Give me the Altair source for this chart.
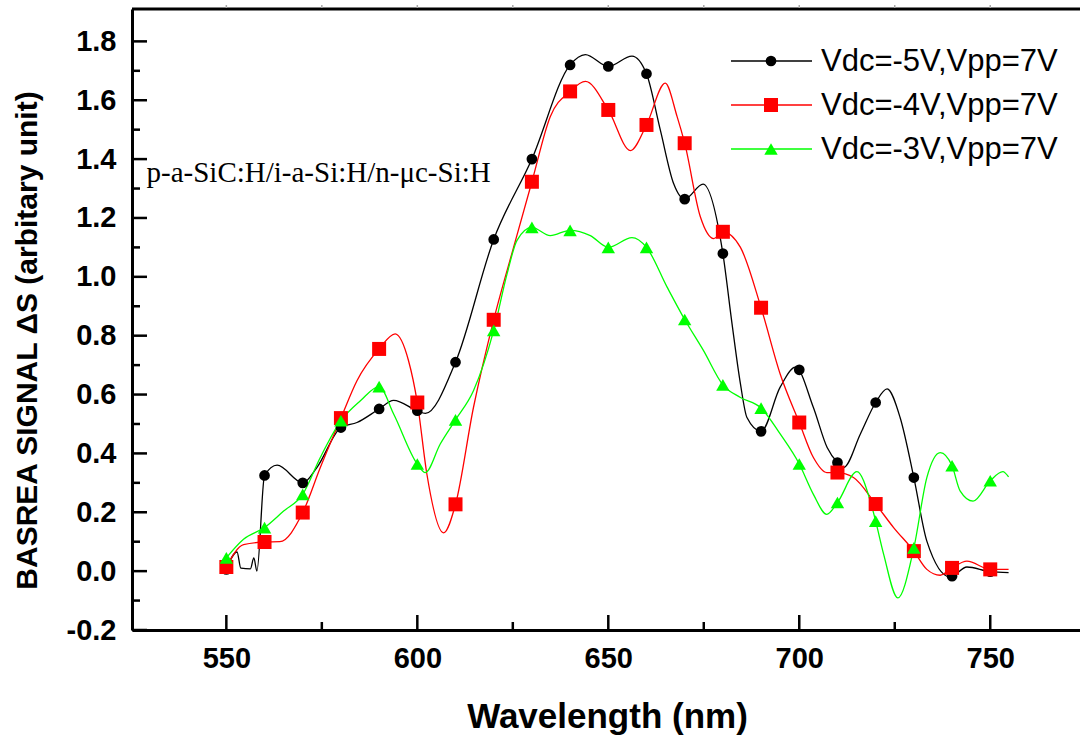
import altair as alt
import pandas as pd

# ---------------- data ----------------
SERIES = ["Vdc=-5V,Vpp=7V", "Vdc=-4V,Vpp=7V", "Vdc=-3V,Vpp=7V"]
COLORS = ["#000000", "#ff0000", "#00ff00"]
SHAPES = ["circle", "square", "triangle-up"]
SIZES = [115, 196, 180]

marker_wl = [550, 560, 570, 580, 590, 600, 610, 620, 630, 640, 650,
             660, 670, 680, 690, 700, 710, 720, 730, 740, 750]
black_marker_sig = [0.006, 0.325, 0.30, 0.488, 0.551, 0.545, 0.71, 1.127, 1.40, 1.72, 1.715,
                    1.69, 1.264, 1.079, 0.475, 0.684, 0.369, 0.573, 0.318, -0.017, -0.002]
red_marker_sig = [0.014, 0.099, 0.199, 0.52, 0.755, 0.573, 0.227, 0.854, 1.323, 1.63, 1.567,
                  1.516, 1.454, 1.153, 0.895, 0.505, 0.335, 0.228, 0.068, 0.011, 0.006]
green_marker_sig = [0.045, 0.148, 0.261, 0.511, 0.627, 0.364, 0.514, 0.818, 1.168, 1.158, 1.10,
                    1.10, 0.855, 0.633, 0.554, 0.364, 0.233, 0.17, 0.079, 0.358, 0.307]

black_line_wl = [550, 552.8, 553.8, 556.3, 557.2, 558.0, 560, 563.3, 570, 573.7, 580, 584.2,
                 590, 593.8, 600, 602.1, 610, 620, 630, 640, 644, 650, 656.2, 660, 663.6,
                 667.1, 670, 674.8, 680, 682.4, 684.6, 686.3, 690, 695, 699, 703.7, 707.3,
                 710, 711.6, 716, 720, 723, 726.4, 730, 733.4, 739.5, 743.9, 750, 754.8]
black_line_sig = [0.006, 0.065, 0.01, 0.008, 0.045, 0.0, 0.325, 0.36, 0.30, 0.352, 0.488, 0.505,
                  0.551, 0.58, 0.545, 0.536, 0.71, 1.127, 1.40, 1.72, 1.755, 1.715, 1.75, 1.69, 1.5,
                  1.317, 1.264, 1.315, 1.079, 0.84, 0.636, 0.522, 0.475, 0.625, 0.693, 0.556, 0.42,
                  0.369, 0.352, 0.466, 0.573, 0.619, 0.522, 0.318, 0.102, -0.02, 0.014, -0.002, -0.005]

red_line_wl = [550, 554.5, 560, 564, 570, 574.6, 580, 584.2, 590, 594.2, 597.7, 600, 602.5,
               606.9, 610, 614.7, 620, 625.2, 630, 634.8, 640, 644, 650, 655.8, 660, 664.9,
               668, 670, 674.1, 677.6, 680, 684.6, 690, 695, 700, 703.7, 707.2, 710, 714.2,
               720, 724.7, 730, 733.4, 736.9, 740, 743.9, 750, 754.8]
red_line_sig = [0.014, 0.09, 0.099, 0.10, 0.199, 0.352, 0.52, 0.647, 0.755, 0.806, 0.715, 0.573,
                0.33, 0.13, 0.227, 0.556, 0.854, 1.10, 1.323, 1.544, 1.63, 1.664, 1.567, 1.429,
                1.516, 1.658, 1.545, 1.454, 1.204, 1.13, 1.153, 1.10, 0.895, 0.67, 0.505, 0.386,
                0.335, 0.335, 0.318, 0.228, 0.148, 0.068, 0.006, -0.014, 0.011, 0.034, 0.006, 0.006]

green_line_wl = [550, 554.5, 560, 565, 570, 574.6, 580, 585.1, 590, 593.8, 600, 602.1, 606,
                 610, 614.7, 620, 623.5, 626.1, 630, 634.8, 640, 645.3, 650, 656.2, 660, 665.4,
                 670, 674.9, 680, 684.6, 690, 695, 700, 703.7, 707.2, 710, 715.1, 718.6, 720,
                 722.1, 725.8, 730, 733.4, 736.9, 740, 742.1, 745.5, 750, 753.3, 754.8]
green_line_sig = [0.045, 0.108, 0.148, 0.204, 0.261, 0.386, 0.511, 0.579, 0.627, 0.534, 0.364,
                  0.335, 0.432, 0.514, 0.613, 0.818, 1.01, 1.124, 1.168, 1.14, 1.158, 1.14, 1.10,
                  1.133, 1.10, 0.965, 0.855, 0.75, 0.633, 0.59, 0.554, 0.466, 0.364, 0.261, 0.193,
                  0.233, 0.338, 0.238, 0.17, 0.057, -0.091, 0.079, 0.318, 0.403, 0.358, 0.273,
                  0.238, 0.307, 0.338, 0.32]

x_major_ticks = [550, 600, 650, 700, 750]
x_minor_ticks = [575, 625, 675, 725]
y_major_ticks = [-0.2, 0.0, 0.2, 0.4, 0.6, 0.8, 1.0, 1.2, 1.4, 1.6, 1.8]
y_minor_ticks = [-0.1, 0.1, 0.3, 0.5, 0.7, 0.9, 1.1, 1.3, 1.5, 1.7]

ANNOTATION = "p-a-SiC:H/i-a-Si:H/n-\u03bcc-Si:H"
ANN_WL, ANN_SIG = 529.1, 1.323

X_TITLE = "Wavelength (nm)"
Y_TITLE = "BASREA SIGNAL \u0394S (arbitary unit)"

# ---------------- layout ----------------
W, H = 948, 621
LEFT, TOP = 132, 9
FONT = "Liberation Sans"

xscale = alt.Scale(domain=[525.3, 773.5], nice=False, zero=False)
yscale = alt.Scale(domain=[-0.2, 1.91], nice=False, zero=False)

x_axis = alt.Axis(values=x_major_ticks, format="d", ticks=False, tickSize=0, grid=False,
                  domainColor="black", domainWidth=3, labelFont=FONT, labelFontSize=29,
                  labelFontWeight="bold", labelColor="black", labelPadding=14,
                  title=X_TITLE, titleFont=FONT, titleFontSize=35, titleFontWeight="bold",
                  titleColor="black", titleX=475, titleY=97, titleAlign="center",
                  titleBaseline="alphabetic", titleAnchor="middle")
y_axis = alt.Axis(values=y_major_ticks, ticks=False, tickSize=0, grid=False,
                  labelExpr="replace(format(datum.value, '.1f'), '\u2212', '-')",
                  domainColor="black", domainWidth=3, labelFont=FONT, labelFontSize=29,
                  labelFontWeight="bold", labelColor="black", labelPadding=16,
                  title=Y_TITLE, titleFont=FONT, titleFontSize=30, titleFontWeight="bold",
                  titleColor="black", titleAngle=270, titleX=-96, titleY=331,
                  titleAlign="center", titleBaseline="alphabetic")

lines_wl = [black_line_wl, red_line_wl, green_line_wl]
lines_sig = [black_line_sig, red_line_sig, green_line_sig]
markers_sig = [black_marker_sig, red_marker_sig, green_marker_sig]

layers = []
for i, name in enumerate(SERIES):
    ldf = pd.DataFrame({"wl": lines_wl[i], "sig": lines_sig[i]})
    enc_x = alt.X("wl:Q", scale=xscale, axis=x_axis) if i == 0 else alt.X("wl:Q", scale=xscale)
    enc_y = alt.Y("sig:Q", scale=yscale, axis=y_axis) if i == 0 else alt.Y("sig:Q", scale=yscale)
    layers.append(
        alt.Chart(ldf).mark_line(color=COLORS[i], strokeWidth=1.3, interpolate="monotone", clip=True)
        .encode(x=enc_x, y=enc_y, order="wl:Q")
    )
for i, name in enumerate(SERIES):
    mdf = pd.DataFrame({"wl": marker_wl, "sig": markers_sig[i]})
    layers.append(
        alt.Chart(mdf).mark_point(shape=SHAPES[i], filled=True, size=SIZES[i], color=COLORS[i],
                                  opacity=1, strokeWidth=0)
        .encode(x=alt.X("wl:Q", scale=xscale), y=alt.Y("sig:Q", scale=yscale))
    )

# inward ticks
layers.append(alt.Chart(pd.DataFrame({"sig": y_major_ticks})).mark_rule(color="black", strokeWidth=2.5)
              .encode(y=alt.Y("sig:Q", scale=yscale), x=alt.value(0), x2=alt.value(15)))
layers.append(alt.Chart(pd.DataFrame({"sig": y_minor_ticks})).mark_rule(color="black", strokeWidth=2.5)
              .encode(y=alt.Y("sig:Q", scale=yscale), x=alt.value(0), x2=alt.value(8)))
layers.append(alt.Chart(pd.DataFrame({"wl": x_major_ticks})).mark_rule(color="black", strokeWidth=2.5)
              .encode(x=alt.X("wl:Q", scale=xscale), y=alt.value(H), y2=alt.value(H - 15)))
layers.append(alt.Chart(pd.DataFrame({"wl": x_minor_ticks})).mark_rule(color="black", strokeWidth=2.5)
              .encode(x=alt.X("wl:Q", scale=xscale), y=alt.value(H), y2=alt.value(H - 8)))
# top border with faint outer ticks
layers.append(alt.Chart(pd.DataFrame({"a": [0]})).mark_rule(color="black", strokeWidth=3)
              .encode(x=alt.value(0), x2=alt.value(W), y=alt.value(0)))
layers.append(alt.Chart(pd.DataFrame({"wl": x_major_ticks + x_minor_ticks})).mark_rule(color="#aaaaaa", strokeWidth=1.5)
              .encode(x=alt.X("wl:Q", scale=xscale), y=alt.value(-4), y2=alt.value(-1)))

# annotation
layers.append(alt.Chart(pd.DataFrame({"wl": [ANN_WL], "sig": [ANN_SIG], "t": [ANNOTATION]}))
              .mark_text(align="left", baseline="alphabetic", font="Liberation Serif", fontSize=29,
                         color="black")
              .encode(x=alt.X("wl:Q", scale=xscale), y=alt.Y("sig:Q", scale=yscale), text="t:N"))

# legend (drawn manually: line + marker + label)
LEG_ROWS = [61, 105, 149]
for i, name in enumerate(SERIES):
    ly = LEG_ROWS[i] - TOP
    ldf = pd.DataFrame({"name": [name]})
    layers.append(alt.Chart(ldf).mark_rule(color=COLORS[i], strokeWidth=1.3)
                  .encode(x=alt.value(731 - LEFT), x2=alt.value(812 - LEFT), y=alt.value(ly)))
    layers.append(alt.Chart(ldf).mark_point(shape=SHAPES[i], filled=True, size=SIZES[i], color=COLORS[i],
                                            opacity=1, strokeWidth=0)
                  .encode(x=alt.value(771 - LEFT), y=alt.value(ly)))
    layers.append(alt.Chart(ldf).mark_text(align="left", baseline="middle", font=FONT, fontSize=31,
                                           color="black")
                  .encode(x=alt.value(821 - LEFT), y=alt.value(ly + 1), text="name:N"))

chart = (
    alt.layer(*layers)
    .properties(width=W, height=H, autosize="none",
                padding={"left": LEFT, "top": TOP, "right": 0, "bottom": 740 - TOP - H},
                background="white")
    .configure_view(stroke=None)
)

chart.save("out.html", embed_options={"renderer": "svg", "actions": False})
